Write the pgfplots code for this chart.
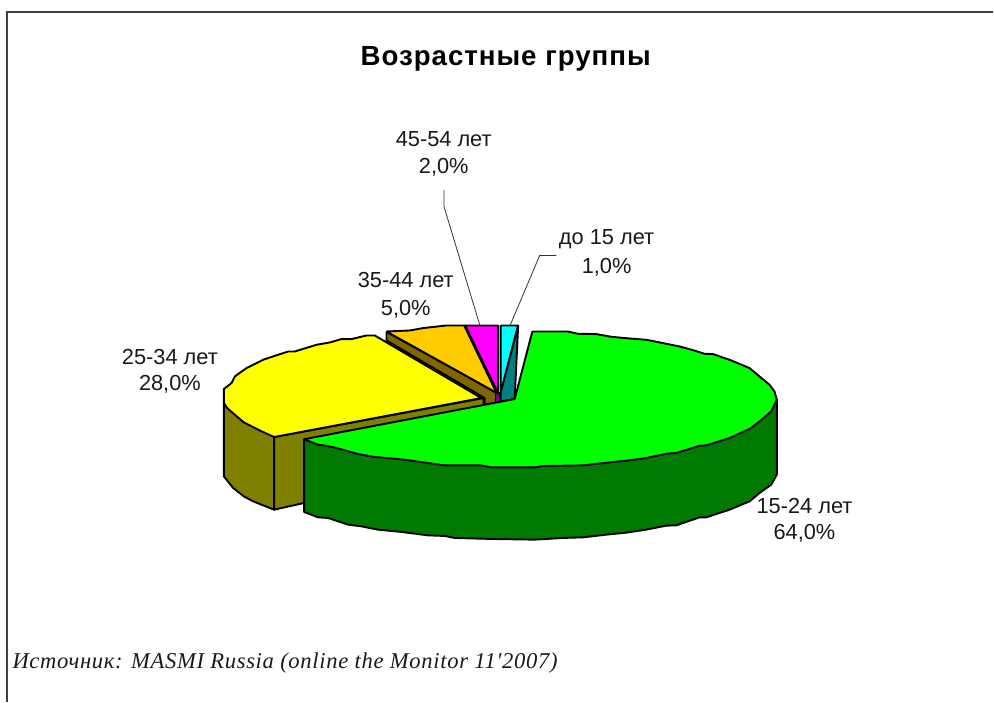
\documentclass[border=0pt]{standalone}
\usepackage{fontspec}
\setmainfont{Liberation Sans}
\newfontfamily\srcfont{Liberation Serif}
\usepackage{pgfplots}
\pgfplotsset{compat=1.18}

\definecolor{greentop}{RGB}{0,255,0}
\definecolor{greenside}{RGB}{0,122,0}
\definecolor{olive2}{RGB}{128,128,0}
\definecolor{brownface}{RGB}{128,102,0}
\definecolor{orangetop}{RGB}{255,204,0}
\definecolor{yellowtop}{RGB}{255,255,0}
\definecolor{magentatop}{RGB}{255,0,255}
\definecolor{cyantop}{RGB}{0,255,255}
\definecolor{tealface}{RGB}{0,128,128}
\definecolor{purpleface}{RGB}{128,0,128}

\tikzset{
    slice/.style={draw=black, line width=1.9pt, line join=round},
    lab/.style={font=\fontsize{21.8}{24}\selectfont, anchor=center, text=black!90},
}

\begin{document}
\begin{tikzpicture}
\begin{axis}[
    scale only axis,
    width=994pt,
    height=702pt,
    xmin=0, xmax=994,
    ymin=0, ymax=702,
    y dir=reverse,
    hide axis,
    clip=false,
]
% page corners, keep the bounding box
\addplot[draw=none, forget plot] coordinates {(0,0) (994,702)};

% frame, top and left only
\addplot[color=black!75, line width=1.3pt] coordinates {(994,12) (7,12) (7,702)};

% 25-34 walls
\addplot[slice, fill=olive2] coordinates {
    (224,403) (224,476.7) (233.3,488.3) (244,496.7) (253.3,501.7) (274.3,510)
    (274.3,437.3) (224,403)};
\addplot[slice, fill=olive2] coordinates {
    (274.3,437.3) (484,398.3) (484,420) (304.3,503.3) (274.3,510) (274.3,437.3)};

% 15-24 side wall
\addplot[slice, fill=greenside] coordinates {
    (304.3,439.5) (304.3,512.3) (318.3,517.7) (328.3,518.3) (348.3,525) (361.7,526.7)
    (378.3,530) (401.7,532.3) (428.3,535.7) (445,536.3) (455,538.3) (491.7,539.3)
    (535,540) (563.3,538.3) (583.3,537.7) (606.7,535) (626.7,533) (646.7,530)
    (666.7,526) (676.7,525.7) (700,517.7) (706.7,517.7) (730,510) (750,501.7)
    (760,493.3) (771.7,485) (777.3,475) (777.3,400) (600,440) (304.3,439.5)};

% 35-44 cut face
\addplot[slice, fill=brownface] coordinates {
    (386.7,332) (386.7,340.7) (485,398.3) (485,405) (496,403) (497.3,393.3) (386.7,332)};

% 25-34 top
\addplot[slice, fill=yellowtop] coordinates {
    (274.3,437.3) (263.3,432.3) (253.3,427.3) (244,422.7) (235,415) (227.3,408.3)
    (224,403.3) (224,389.3) (231.7,383.3) (235,376.7) (246.7,368.3) (263.3,360)
    (288.3,351.7) (295,351.7) (316.7,345) (330,342.7) (341.7,339.3) (351.7,339.3)
    (366.7,335.7) (375,335.7) (481.7,398.3) (274.3,437.3)};

% 35-44 top
\addplot[slice, fill=orangetop] coordinates {
    (386.7,331.7) (410,330.7) (423.3,328.3) (446.7,325.7) (465,325.7)
    (497.3,393.3) (386.7,331.7)};

% 45-54 top, wall under the tip
\addplot[slice, line width=1pt, fill=purpleface] coordinates {
    (496,393) (500,393) (500,403) (496,403) (496,393)};
\addplot[slice, fill=magentatop] coordinates {
    (465,325.7) (498.3,325.7) (498.3,393.3) (465,325.7)};
\addplot[draw=black, line width=2.8pt] coordinates {(465,325.7) (497.5,393.3)};

% up to 15: top, then cut face in front
\addplot[slice, fill=cyantop] coordinates {
    (501,325.7) (518.5,325.7) (501,393.3) (501,325.7)};
\addplot[slice, fill=tealface] coordinates {
    (518.5,325.7) (515,399.3) (501,401.7) (501,393) (518.5,325.7)};

% 15-24 top
\addplot[slice, fill=greentop] coordinates {
    (532.7,331.7) (568.3,331.7) (578.3,334) (596.7,334.3) (611.7,337) (630,338.7)
    (646.7,340) (663.3,343.3) (680,346.7) (693.3,350.3) (705,354) (713.3,354.3)
    (730,360) (750,368.3) (760,376.7) (770,385) (775,391.7) (777.3,400)
    (771.7,411.7) (760,421.7) (750,429.3) (730,438.3) (706.7,445.7) (700,446)
    (676.7,453.3) (666.7,454) (646.7,458.3) (626.7,461) (606.7,463) (583.3,465.7)
    (563.3,466) (543.3,466.3) (535,467.7) (491.7,467.7) (481.7,465.7) (445,465.7)
    (428.3,463.3) (405,460) (395,459) (375,457.3) (358.3,454.3) (336.7,448.3)
    (326.7,446) (318.3,445) (304.3,439.5) (515,399.3) (532.7,331.7)};

% leader lines
\addplot[color=black!80, line width=0.8pt] coordinates {(444.3,190) (444.3,206.7) (480,325)};
\addplot[color=black!80, line width=0.8pt] coordinates {(556.7,255.7) (540,255.7) (510.7,325)};

% title and source
\node[font=\fontsize{27.7}{30}\bfseries\selectfont\addfontfeature{LetterSpace=3.5}, anchor=center] at (axis cs:506,59) {Возрастные группы};
\node[font=\srcfont\itshape\fontsize{22.6}{24}\selectfont\addfontfeature{LetterSpace=3}, anchor=west, text=black!90] at (axis cs:9,663) {Источник: MASMI Russia (online the Monitor 11'2007)};

% slice labels
\node[lab] at (axis cs:444,139) {45-54 лет};
\node[lab] at (axis cs:444,167.5) {2,0\%};
\node[lab] at (axis cs:607,239) {до 15 лет};
\node[lab] at (axis cs:607,267) {1,0\%};
\node[lab] at (axis cs:406,280) {35-44 лет};
\node[lab] at (axis cs:406,309) {5,0\%};
\node[lab] at (axis cs:170,357) {25-34 лет};
\node[lab] at (axis cs:170,385) {28,0\%};
\node[lab] at (axis cs:805,506) {15-24 лет};
\node[lab] at (axis cs:805,534) {64,0\%};
\end{axis}
\end{tikzpicture}
\end{document}
